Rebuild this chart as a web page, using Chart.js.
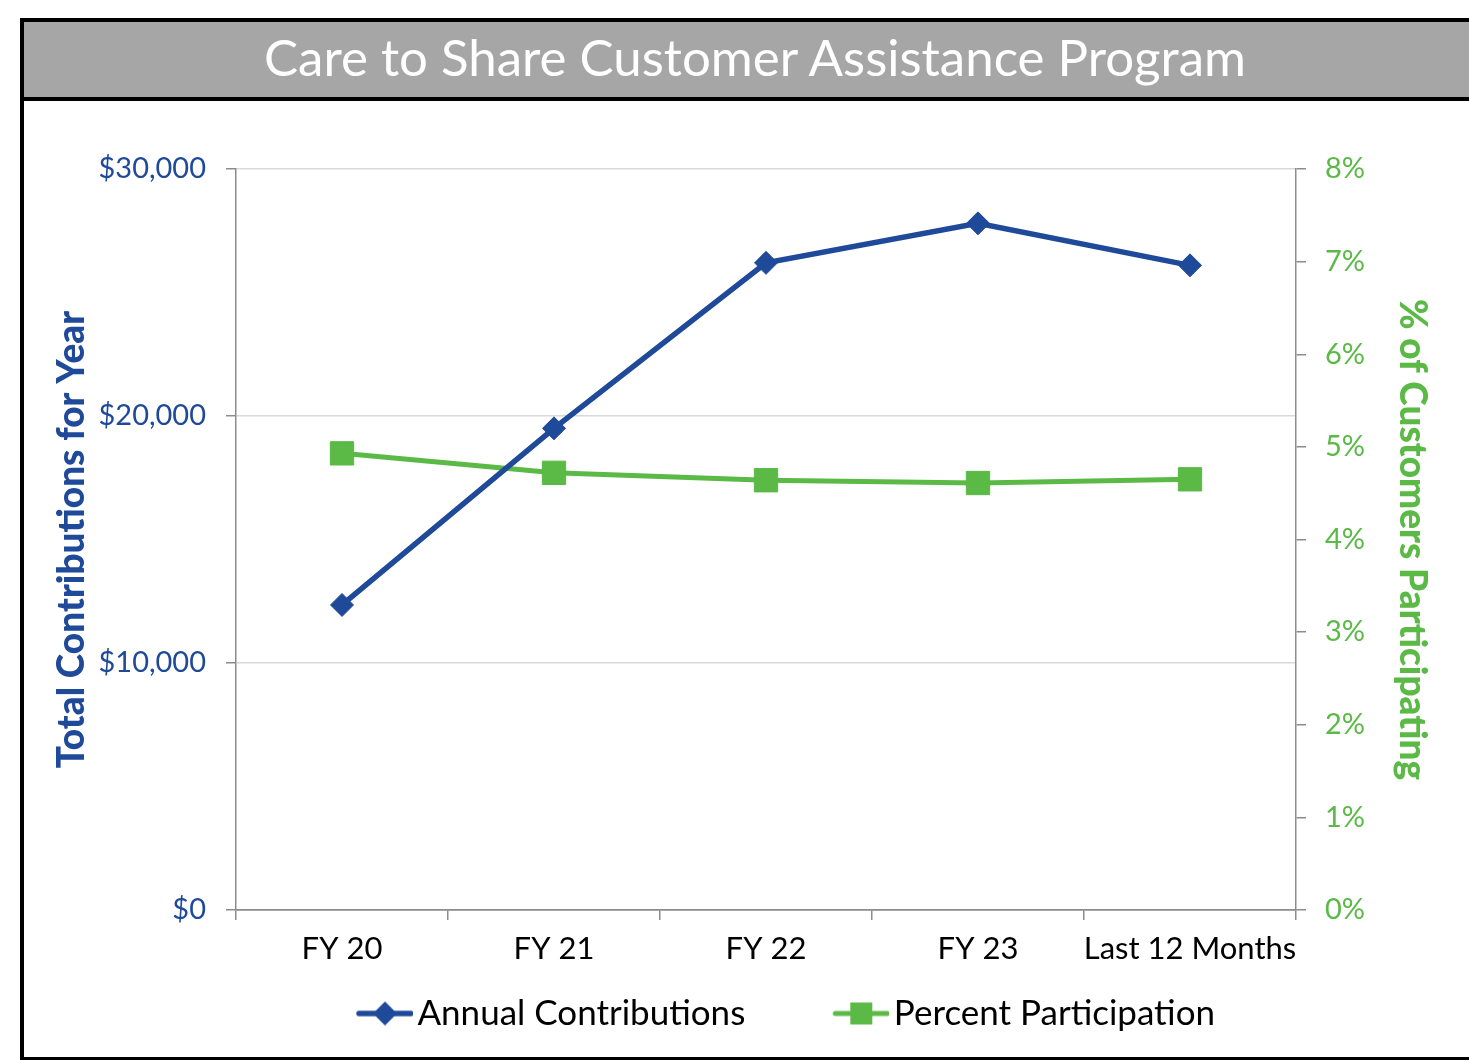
<!DOCTYPE html>
<html>
<head>
<meta charset="utf-8">
<script src="https://cdn.jsdelivr.net/npm/chart.js@4"></script>
<style>
  html, body { margin: 0; padding: 0; background: #fff; overflow: hidden; }
  body { width: 1469px; height: 1060px; position: relative; }
  #frame {
    position: absolute; left: 20px; top: 18px;
    width: 1462px; height: 1035px;
    border: 4px solid #000;
  }
  #title {
    height: 75px; background: #a6a6a6; border-bottom: 4px solid #000;
    color: #fff; font-family: Lato, sans-serif; font-size: 51px;
    text-align: center; line-height: 70px;
  }
  #c { position: absolute; left: 24px; top: 101px; }
</style>
</head>
<body>
<div id="frame"><div id="title">Care to Share Customer Assistance Program</div></div>
<canvas id="c" width="1462" height="940"></canvas>
<script>
// data
var categories = ['FY 20', 'FY 21', 'FY 22', 'FY 23', 'Last 12 Months'];
var contributions = [12350, 19500, 26200, 27800, 26100];
var participation = [4.93, 4.72, 4.64, 4.61, 4.65];
var dollarTicks = [0, 10000, 20000, 30000];
var percentTicks = [0, 1, 2, 3, 4, 5, 6, 7, 8];

var BLUE = '#1f4a9a';
var GREEN = '#5bb946';
var AXIS = '#8c8c8c';
var FONT = 'Lato';

// little line+marker pictures for the legend
function legendMark(color, lw, shape) {
  var c = document.createElement('canvas');
  c.width = 131; c.height = 30;
  var g = c.getContext('2d');
  var x0 = c.width - 56, cx = c.width - 28, cy = 15;
  g.strokeStyle = color; g.lineWidth = lw; g.lineCap = 'round';
  g.beginPath(); g.moveTo(x0 + 2, cy); g.lineTo(c.width - 2, cy); g.stroke();
  g.fillStyle = color;
  g.beginPath();
  if (shape == 'diamond') {
    g.moveTo(cx, cy - 12); g.lineTo(cx + 12, cy); g.lineTo(cx, cy + 12); g.lineTo(cx - 12, cy);
  } else {
    g.rect(cx - 11, cy - 11, 22, 22);
  }
  g.closePath(); g.fill();
  return c;
}
var marks = [legendMark(BLUE, 5.5, 'diamond'), legendMark(GREEN, 5, 'square')];

var chart = new Chart(document.getElementById('c').getContext('2d'), {
  type: 'line',
  data: {
    labels: categories,
    datasets: [{
      label: 'Annual Contributions',
      data: contributions,
      yAxisID: 'y',
      borderColor: BLUE,
      backgroundColor: BLUE,
      borderWidth: 5.5,
      pointStyle: 'rectRot',
      pointRadius: 11.5,
      pointHoverRadius: 11.5,
      pointBackgroundColor: BLUE,
      pointBorderColor: BLUE,
      pointBorderWidth: 1
    }, {
      label: 'Percent Participation',
      data: participation,
      yAxisID: 'y2',
      borderColor: GREEN,
      backgroundColor: GREEN,
      borderWidth: 5,
      pointStyle: 'rect',
      pointRadius: 16.5,
      pointHoverRadius: 16.5,
      pointBackgroundColor: GREEN,
      pointBorderColor: GREEN,
      pointBorderWidth: 1
    }]
  },
  options: {
    responsive: false,
    animation: false,
    layout: { padding: { top: 68, left: 0, right: 0, bottom: 0 } },
    plugins: {
      tooltip: { enabled: false },
      legend: {
        position: 'bottom',
        labels: {
          font: { family: FONT, size: 35 },
          color: '#000',
          usePointStyle: true,
          pointStyleWidth: 105,
          padding: 26,
          generateLabels: function (ch) {
            var items = Chart.defaults.plugins.legend.labels.generateLabels(ch);
            items.forEach(function (it, i) { it.pointStyle = marks[i]; });
            return items;
          }
        }
      }
    },
    scales: {
      x: {
        offset: true,
        grid: { offset: true, drawOnChartArea: false, tickLength: 10, color: AXIS, lineWidth: 1.5 },
        border: { color: AXIS, width: 1.5 },
        ticks: { color: '#000', font: { family: FONT, size: 31 }, padding: 10, maxRotation: 0, autoSkip: false },
        afterFit: function (s) { s.height = 60; }
      },
      y: {
        position: 'left',
        min: 0, max: 30000,
        afterBuildTicks: function (s) { s.ticks = dollarTicks.map(function (v) { return { value: v }; }); },
        grid: {
          color: function (ctx) { return ctx.tick && ctx.tick.value === 0 ? AXIS : '#d9d9d9'; },
          tickColor: AXIS, tickLength: 10, lineWidth: 1.5
        },
        border: { color: AXIS, width: 1.5 },
        ticks: {
          color: BLUE, font: { family: FONT, size: 29 }, padding: 20,
          callback: function (v) { return '$' + v.toLocaleString('en-US'); }
        },
        title: {
          display: true, text: 'Total Contributions for Year', color: BLUE,
          font: { family: FONT, size: 37, weight: 900 }, padding: { top: 26 }
        },
        afterFit: function (s) { s.width = 212; }
      },
      y2: {
        position: 'right',
        min: 0, max: 8,
        afterBuildTicks: function (s) { s.ticks = percentTicks.map(function (v) { return { value: v }; }); },
        grid: { drawOnChartArea: false, color: AXIS, tickLength: 10, lineWidth: 1.5 },
        border: { color: AXIS, width: 1.5 },
        ticks: {
          color: GREEN, font: { family: FONT, size: 29 }, padding: 19,
          callback: function (v) { return v + '%'; }
        },
        title: {
          display: true, text: '% of Customers Participating', color: GREEN,
          font: { family: FONT, size: 37, weight: 900 }, padding: { top: 52 }
        },
        afterFit: function (s) { s.width = 190; }
      }
    }
  }
});
</script>
</body>
</html>
